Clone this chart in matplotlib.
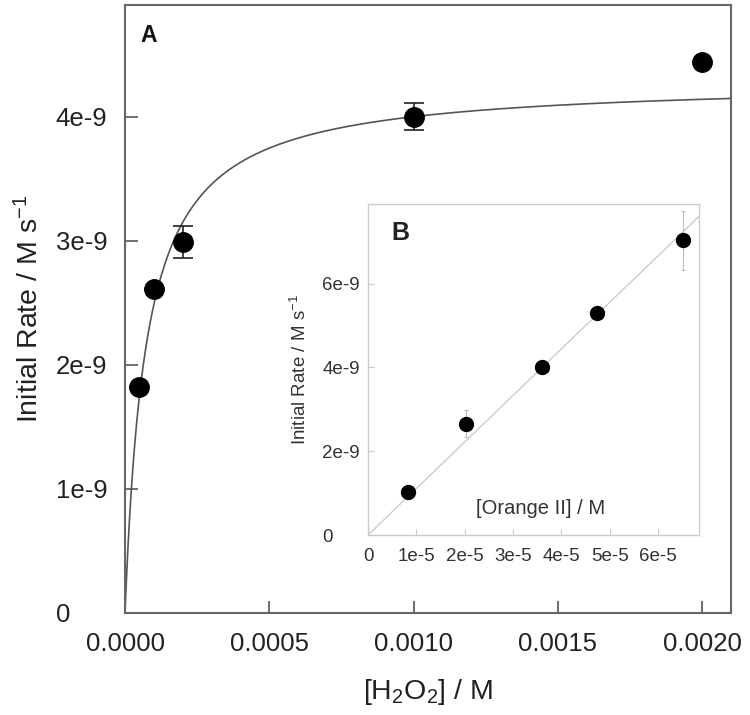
import matplotlib
matplotlib.use("Agg")
import matplotlib.pyplot as plt
import numpy as np

plt.rcParams['font.family'] = ['Liberation Sans', 'DejaVu Sans']
plt.rcParams['mathtext.fontset'] = 'custom'
plt.rcParams['mathtext.rm'] = 'Liberation Sans'
plt.rcParams['mathtext.default'] = 'regular'

# panel A: rate vs [H2O2]
h2o2 = [0.00005, 0.0001, 0.0002, 0.001, 0.002]
rate_a = [1.82e-9, 2.61e-9, 2.99e-9, 4.0e-9, 4.44e-9]
err_a = [0.0, 0.0, 0.13e-9, 0.11e-9, 0.0]
vmax = 4.29e-9   # fitted Michaelis-Menten curve
km = 7.25e-5

# panel B: rate vs [Orange II]
orange = [0.83e-5, 2.03e-5, 3.61e-5, 4.73e-5, 6.51e-5]
rate_b = [1.03e-9, 2.66e-9, 4.0e-9, 5.29e-9, 7.03e-9]
err_b = [0.0, 0.33e-9, 0.0, 0.0, 0.7e-9]
slope_b = 1.11e-4  # fitted line through origin

xticks_a = [0.0, 0.0005, 0.001, 0.0015, 0.002]
xlabels_a = ['0.0000', '0.0005', '0.0010', '0.0015', '0.0020']
yticks_a = [0, 1e-9, 2e-9, 3e-9, 4e-9]
ylabels_a = ['0', '1e-9', '2e-9', '3e-9', '4e-9']

xticks_b = [0, 1e-5, 2e-5, 3e-5, 4e-5, 5e-5, 6e-5]
xlabels_b = ['0', '1e-5', '2e-5', '3e-5', '4e-5', '5e-5', '6e-5']
yticks_b = [0, 2e-9, 4e-9, 6e-9]
ylabels_b = ['0', '2e-9', '4e-9', '6e-9']

def main():
  fig = plt.figure(figsize=(7.5, 7.15), dpi=100)
  ax = fig.add_axes([0.1667, 0.1427, 0.808, 0.8503])

  xs = np.linspace(0, 0.0021, 800)
  ax.plot(xs, vmax * xs / (km + xs), color='#555555', lw=1.2, zorder=2)
  ax.errorbar(h2o2, rate_a, yerr=err_a, fmt='o', color='black', ms=14,
              ecolor='#222222', elinewidth=1.2, capsize=7, capthick=1.2, zorder=3)

  ax.set_xlim(0, 0.0021)
  ax.set_ylim(0, 4.9e-9)
  ax.set_xticks(xticks_a)
  ax.set_xticklabels(xlabels_a)
  ax.set_yticks(yticks_a)
  ax.set_yticklabels(ylabels_a, ha='left')
  ax.tick_params(direction='in', length=9, width=1.2, color='#555555',
                 labelsize=18.5, labelcolor='#222222')
  ax.tick_params(axis='y', pad=50)
  ax.tick_params(axis='x', pad=14)
  for s in ax.spines.values():
    s.set_color('#666666')
    s.set_linewidth(1.5)
  ax.set_xlabel('[H$_2$O$_2$] / M', fontsize=20.5, color='#222222', labelpad=15)
  ax.set_ylabel('Initial Rate / M s$^{-1}$', fontsize=20.5, color='#222222', labelpad=8)
  ax.text(0.025, 0.95, 'A', transform=ax.transAxes, fontsize=16.5,
          fontweight='bold', ha='left', va='center', color='#111111')

  # inset
  ins = fig.add_axes([0.4907, 0.2517, 0.4413, 0.463])
  xb = np.linspace(0, 6.85e-5, 50)
  ins.plot(xb, slope_b * xb, color='#cccccc', lw=1.0, zorder=2)
  ins.errorbar(orange, rate_b, yerr=err_b, fmt='o', color='black', ms=10,
               ecolor='#bbbbbb', elinewidth=0.8, capsize=1.5, capthick=0.8, zorder=3)
  ins.set_xlim(0, 6.85e-5)
  ins.set_ylim(0, 7.9e-9)
  ins.set_xticks(xticks_b)
  ins.set_xticklabels(xlabels_b)
  ins.set_yticks(yticks_b)
  ins.set_yticklabels(ylabels_b, ha='left')
  ins.tick_params(direction='in', length=4, width=0.8, color='#cccccc',
                  labelsize=13.5, labelcolor='#333333')
  ins.tick_params(axis='y', pad=33)
  ins.tick_params(axis='x', pad=9)
  for s in ins.spines.values():
    s.set_color('#cccccc')
    s.set_linewidth(1.0)
  ins.set_ylabel('Initial Rate / M s$^{-1}$', fontsize=13.5, color='#333333', labelpad=9)
  ins.text(0.52, 0.08, '[Orange II] / M', transform=ins.transAxes, fontsize=14.5,
           ha='center', va='center', color='#333333')
  ins.text(0.097, 0.912, 'B', transform=ins.transAxes, fontsize=18,
           fontweight='bold', ha='center', va='center', color='#222222')

  fig.savefig('out.png', dpi=100)

if __name__ == "__main__":
  main()
